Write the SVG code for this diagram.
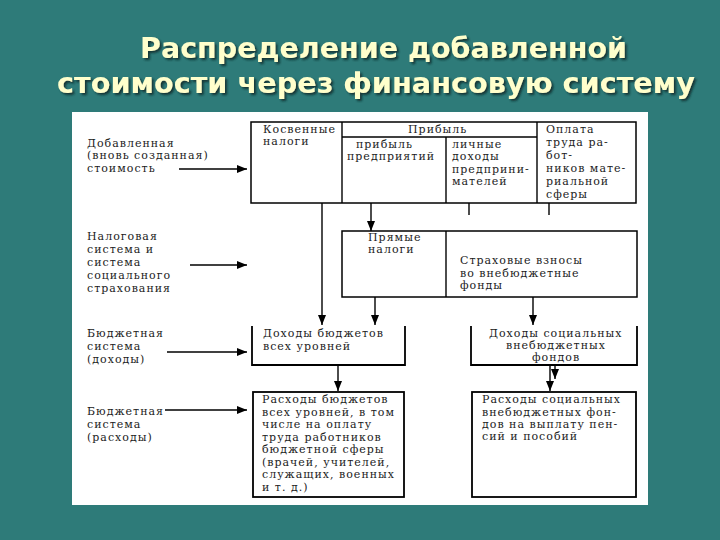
<svg xmlns="http://www.w3.org/2000/svg" width="720" height="540" viewBox="0 0 720 540">
<defs>
<marker id="ah" markerWidth="10" markerHeight="8" refX="10" refY="4" orient="auto" markerUnits="userSpaceOnUse">
<path d="M0,0 L10,4 L0,8 z" fill="#000"/>
</marker>
<filter id="shadow" x="-5%" y="-20%" width="110%" height="150%">
<feDropShadow dx="2" dy="2" stdDeviation="0.8" flood-color="#0c2a2a" flood-opacity="0.85"/>
</filter>
<style>
.t{font-family:"DejaVu Serif","Liberation Serif",serif;font-size:11px;fill:#222;letter-spacing:1px}
.title{font-family:"DejaVu Sans","Open Sans",sans-serif;font-weight:bold;font-size:29px;fill:#ffffcc;filter:url(#shadow)}
.box{fill:none;stroke:#000;stroke-width:1.5}
.ln{fill:none;stroke:#000;stroke-width:1.4}
.ar{fill:none;stroke:#000;stroke-width:1.4;marker-end:url(#ah)}
</style>
</defs>
<rect x="0" y="0" width="720" height="540" fill="#2e7b79"/>
<g id="title">
<text class="title" x="140" y="58" textLength="487" lengthAdjust="spacingAndGlyphs">Распределение добавленной</text>
<text class="title" x="57" y="93" textLength="638" lengthAdjust="spacingAndGlyphs">стоимости через финансовую систему</text>
</g>
<rect x="72" y="112" width="576" height="393" fill="#fff"/>
<g id="label-added-value">
<text class="t" x="87" y="147">Добавленная</text>
<text class="t" x="87" y="159">(вновь созданная)</text>
<text class="t" x="87" y="172">стоимость</text>
</g>
<g id="label-tax-system">
<text class="t" x="87" y="240">Налоговая</text>
<text class="t" x="87" y="253">система и</text>
<text class="t" x="87" y="266">система</text>
<text class="t" x="87" y="279">социального</text>
<text class="t" x="87" y="292">страхования</text>
</g>
<g id="label-budget-income">
<text class="t" x="87" y="337">Бюджетная</text>
<text class="t" x="87" y="350">система</text>
<text class="t" x="87" y="363">(доходы)</text>
</g>
<g id="label-budget-expense">
<text class="t" x="87" y="415">Бюджетная</text>
<text class="t" x="87" y="428">система</text>
<text class="t" x="87" y="441">(расходы)</text>
</g>
<g id="top-box">
<rect class="box" x="251" y="122" width="385" height="81"/>
<line class="ln" x1="342" y1="122" x2="342" y2="203"/>
<line class="ln" x1="537" y1="122" x2="537" y2="203"/>
<line class="ln" x1="342" y1="137" x2="537" y2="137"/>
<line class="ln" x1="446" y1="137" x2="446" y2="203"/>
<text class="t" x="263" y="133">Косвенные</text>
<text class="t" x="263" y="145">налоги</text>
<text class="t" x="408" y="133">Прибыль</text>
<text class="t" x="356" y="148">прибыль</text>
<text class="t" x="347" y="160">предприятий</text>
<text class="t" x="452" y="148">личные</text>
<text class="t" x="452" y="160">доходы</text>
<text class="t" x="452" y="173">предприни-</text>
<text class="t" x="452" y="185">мателей</text>
<text class="t" x="546" y="133">Оплата</text>
<text class="t" x="546" y="146">труда ра-</text>
<text class="t" x="546" y="159">бот-</text>
<text class="t" x="546" y="172">ников мате-</text>
<text class="t" x="546" y="185">риальной</text>
<text class="t" x="546" y="198">сферы</text>
</g>
<g id="middle-box">
<rect class="box" x="342" y="231" width="295" height="66"/>
<line class="ln" x1="446" y1="231" x2="446" y2="297"/>
<text class="t" x="368" y="241">Прямые</text>
<text class="t" x="368" y="253">налоги</text>
<text class="t" x="460" y="264">Страховые взносы</text>
<text class="t" x="460" y="277">во внебюджетные</text>
<text class="t" x="460" y="289">фонды</text>
</g>
<g id="budget-income">
<path class="box" d="M252,326 V365 H405 V326" style="stroke-width:1.8"/>
<text class="t" x="263" y="337">Доходы бюджетов</text>
<text class="t" x="263" y="350">всех уровней</text>
</g>
<g id="social-income">
<path class="box" d="M471,326 V365 H637 V326" style="stroke-width:1.8"/>
<text class="t" x="489" y="337">Доходы социальных</text>
<text class="t" x="556" y="349" text-anchor="middle">внебюджетных</text>
<text class="t" x="556" y="361" text-anchor="middle">фондов</text>
</g>
<g id="budget-expense">
<rect class="box" x="253" y="392" width="151" height="105" style="stroke-width:1.8"/>
<text class="t" x="262" y="403">Расходы бюджетов</text>
<text class="t" x="262" y="416">всех уровней, в том</text>
<text class="t" x="262" y="428">числе на оплату</text>
<text class="t" x="262" y="441">труда работников</text>
<text class="t" x="262" y="453">бюджетной сферы</text>
<text class="t" x="262" y="466">(врачей, учителей,</text>
<text class="t" x="262" y="478">служащих, военных</text>
<text class="t" x="262" y="491">и т. д.)</text>
</g>
<g id="social-expense">
<rect class="box" x="472" y="392" width="164" height="105" style="stroke-width:1.8"/>
<text class="t" x="482" y="403">Расходы социальных</text>
<text class="t" x="482" y="416">внебюджетных фон-</text>
<text class="t" x="482" y="428">дов на выплату пен-</text>
<text class="t" x="482" y="440">сий и пособий</text>
</g>
<g id="connectors">
<line class="ar" x1="179" y1="169" x2="247" y2="169"/>
<line class="ar" x1="190" y1="265" x2="247" y2="265"/>
<line class="ar" x1="167" y1="352" x2="247" y2="352"/>
<line class="ar" x1="165" y1="410" x2="247" y2="410"/>
<line class="ar" x1="322" y1="203" x2="322" y2="325"/>
<line class="ar" x1="371" y1="203" x2="371" y2="231"/>
<line class="ln" x1="469" y1="203" x2="469" y2="215"/>
<line class="ln" x1="549" y1="203" x2="549" y2="215"/>
<line class="ar" x1="375" y1="297" x2="375" y2="325"/>
<line class="ar" x1="533" y1="297" x2="533" y2="325"/>
<line class="ar" x1="338" y1="365" x2="338" y2="391"/>
<line class="ar" x1="550" y1="365" x2="550" y2="391"/>
<line class="ar" x1="555" y1="365" x2="555" y2="379"/>
</g>
</svg>
